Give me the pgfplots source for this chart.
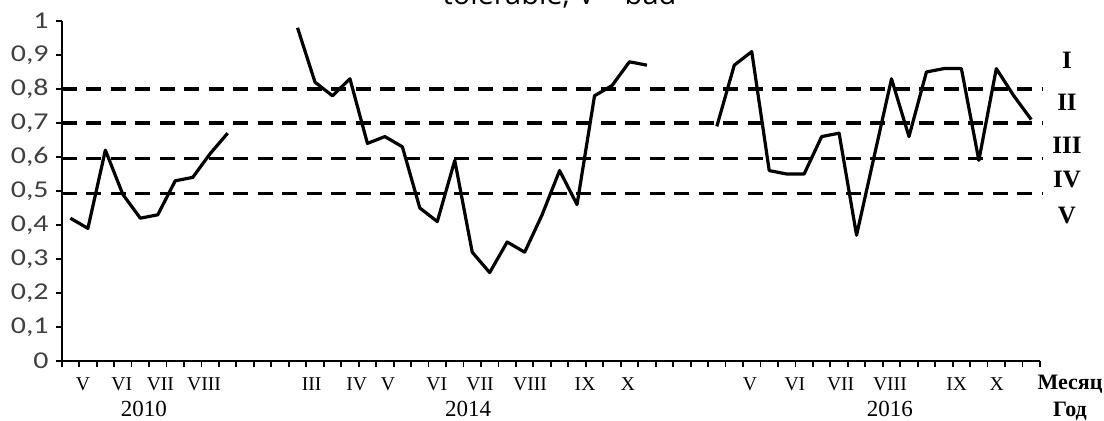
\documentclass[border=0pt]{standalone}
\usepackage{pgfplots}
\pgfplotsset{compat=1.18}
\usepackage{fontspec}
\setmainfont{Liberation Serif}
\newfontfamily\calibri{Carlito}
\newfontfamily\opensans{Open Sans}
\definecolor{ticklab}{RGB}{64,64,64}

\begin{document}
\begin{tikzpicture}
\useasboundingbox (-30.85pt,-30pt) rectangle (521.15pt,180.5pt);
\begin{axis}[
  at={(0,0)}, anchor=south west,
  scale only axis, width=489.15pt, height=170pt,
  xmin=-0.5, xmax=55.5, ymin=0, ymax=1,
  axis lines*=left, axis line style={line width=1pt, -},
  tick align=outside, major tick length=3pt,
  tick style={black, line width=0.9pt},
  xtick={-0.5,0.5,...,55.5}, xticklabels={},
  ytick={0,0.1,0.2,0.3,0.4,0.5,0.6,0.7,0.8,0.9,1},
  yticklabel={\scalebox{1.3}[1.05]{\pgfmathprintnumber{\tick}}},
  yticklabel style={font=\calibri\fontsize{11.5}{12}\selectfont, text=ticklab,
     /pgf/number format/.cd, use comma, fixed, precision=1, assume math mode=true},
  extra x ticks={0.72,2.94,5.15,7.65, 13.81,16.39,18.18,20.97,23.45,26.31,29.46,31.92, 38.9,41.47,44.09,46.91,50.73,53.02},
  extra x tick labels={V,VI,VII,VIII, III,IV,V,VI,VII,VIII,IX,X, V,VI,VII,VIII,IX,X},
  extra x tick style={major tick length=0pt, tick style={draw=none},
     tick label style={font=\fontsize{9.8}{10}\selectfont, anchor=base, yshift=-15pt, inner sep=0pt}},
  clip=false,
]
% threshold lines
\addplot[black, line width=1.7pt, dash pattern=on 7.5pt off 4.75pt] coordinates {(-0.5,0.80) (55.6,0.80)};
\addplot[black, line width=1.7pt, dash pattern=on 7.5pt off 4.75pt] coordinates {(-0.5,0.70) (55.6,0.70)};
\addplot[black, line width=1.7pt, dash pattern=on 7.5pt off 4.75pt] coordinates {(-0.5,0.595) (55.6,0.595)};
\addplot[black, line width=1.7pt, dash pattern=on 7.5pt off 4.75pt] coordinates {(-0.5,0.493) (55.6,0.493)};
% 2010
\addplot[black, line width=1.6pt, line join=round] coordinates {
(0,0.42) (1,0.39) (2,0.62) (3,0.49) (4,0.42) (5,0.43) (6,0.53) (7,0.54) (8,0.61) (9,0.67)};
% 2014
\addplot[black, line width=1.6pt, line join=round] coordinates {
(13,0.98) (14,0.82) (15,0.78) (16,0.83) (17,0.64) (18,0.66) (19,0.63) (20,0.45) (21,0.41) (22,0.59)
(23,0.32) (24,0.26) (25,0.35) (26,0.32) (27,0.43) (28,0.56) (29,0.46) (30,0.78) (31,0.81) (32,0.88) (33,0.87)};
% 2016
\addplot[black, line width=1.6pt, line join=round] coordinates {
(37,0.69) (38,0.87) (39,0.91) (40,0.56) (41,0.55) (42,0.55) (43,0.66) (44,0.67) (45,0.37) (46,0.60)
(47,0.83) (48,0.66) (49,0.85) (50,0.86) (51,0.86) (52,0.59) (53,0.86) (54,0.78) (55,0.71)};
% year labels
\node[anchor=base, font=\fontsize{11.5}{12}\selectfont, yshift=-28pt] at (axis cs:4.21,0) {2010};
\node[anchor=base, font=\fontsize{11.5}{12}\selectfont, yshift=-28pt] at (axis cs:22.76,0) {2014};
\node[anchor=base, font=\fontsize{11.5}{12}\selectfont, yshift=-28pt] at (axis cs:46.9,0) {2016};
\node[anchor=base, font=\bfseries\fontsize{11}{12}\selectfont, xshift=15pt, yshift=-14.5pt] at (axis cs:55.5,0) {Месяц};
\node[anchor=base, font=\bfseries\fontsize{11}{12}\selectfont, xshift=15pt, yshift=-28pt] at (axis cs:55.5,0) {Год};
% zone labels
\node[font=\bfseries\fontsize{12.5}{13}\selectfont, xshift=13.5pt] at (axis cs:55.5,0.885) {I};
\node[font=\bfseries\fontsize{12.5}{13}\selectfont, xshift=13.5pt] at (axis cs:55.5,0.76) {II};
\node[font=\bfseries\fontsize{12.5}{13}\selectfont, xshift=13.5pt] at (axis cs:55.5,0.635) {III};
\node[font=\bfseries\fontsize{12.5}{13}\selectfont, xshift=13.5pt] at (axis cs:55.5,0.534) {IV};
\node[font=\bfseries\fontsize{12.5}{13}\selectfont, xshift=13.5pt] at (axis cs:55.5,0.429) {V};
\end{axis}
\node[anchor=base, font=\opensans\fontsize{14.5}{16}\selectfont, text=black] at (248.9pt,178.2pt) {tolerable; V \textendash{} bad};
\end{tikzpicture}
\end{document}
